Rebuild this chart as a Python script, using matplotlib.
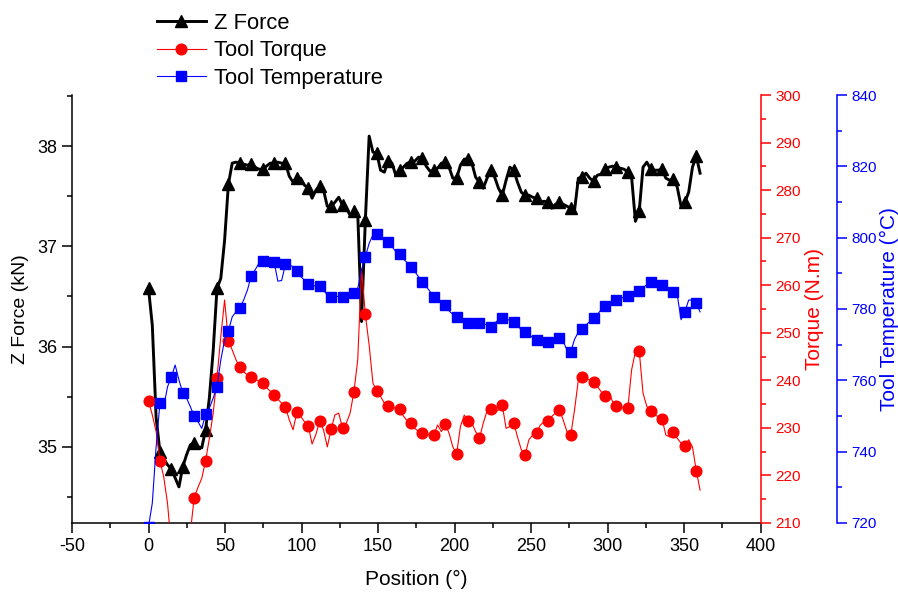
import numpy as np
import matplotlib
matplotlib.use("Agg")
import matplotlib.pyplot as plt
from matplotlib.ticker import MultipleLocator

plt.rcParams['font.family'] = ['Liberation Sans', 'DejaVu Sans']
plt.rcParams['axes.unicode_minus'] = False

# sample positions (deg), markers drawn on every 3rd sample
position = np.linspace(0, 360.5, 146)

z_force = [36.58, 36.21, 35.29, 34.95, 34.88, 34.82, 34.78, 34.69, 34.60, 34.80,
           34.92, 35.02, 35.04, 35.00, 34.99, 35.17, 35.49, 35.96, 36.58, 36.68,
           37.06, 37.62, 37.83, 37.84, 37.83, 37.82, 37.81, 37.82, 37.79, 37.77,
           37.77, 37.80, 37.83, 37.83, 37.84, 37.83, 37.83, 37.70, 37.64, 37.68,
           37.68, 37.61, 37.58, 37.48, 37.56, 37.60, 37.56, 37.40, 37.40, 37.44,
           37.49, 37.41, 37.38, 37.31, 37.35, 37.33, 36.25, 37.26, 38.10, 37.94,
           37.93, 37.76, 37.74, 37.85, 37.83, 37.71, 37.76, 37.79, 37.83, 37.84,
           37.85, 37.89, 37.88, 37.80, 37.75, 37.76, 37.78, 37.83, 37.84, 37.79,
           37.68, 37.68, 37.81, 37.87, 37.87, 37.83, 37.69, 37.64, 37.58, 37.68,
           37.76, 37.69, 37.58, 37.51, 37.66, 37.79, 37.76, 37.64, 37.54, 37.51,
           37.51, 37.49, 37.48, 37.44, 37.45, 37.44, 37.38, 37.42, 37.44, 37.42,
           37.40, 37.38, 37.36, 37.68, 37.69, 37.73, 37.68, 37.65, 37.71, 37.72,
           37.77, 37.79, 37.80, 37.79, 37.78, 37.77, 37.74, 37.69, 37.25, 37.35,
           37.79, 37.84, 37.77, 37.76, 37.76, 37.77, 37.68, 37.66, 37.67, 37.59,
           37.40, 37.44, 37.54, 37.79, 37.90, 37.73]

torque = [235.7, 232.7, 229.2, 223.1, 219.7, 214.1, 205.0, 200.0, 198.0, 199.0,
          203.0, 208.0, 215.3, 217.5, 219.4, 223.1, 227.8, 233.1, 240.5, 249.2,
          256.9, 248.3, 246.4, 244.3, 242.7, 241.8, 241.1, 240.7, 240.2, 239.8,
          239.4, 238.5, 237.7, 236.9, 236.0, 235.2, 234.4, 231.7, 229.6, 233.3,
          232.4, 231.3, 230.4, 226.6, 228.6, 231.5, 229.6, 226.0, 229.7, 232.7,
          233.1, 230.0, 231.0, 233.1, 237.6, 244.3, 263.5, 253.9, 247.4, 239.4,
          237.8, 236.6, 235.2, 234.6, 234.4, 234.1, 234.0, 232.5, 231.5, 231.0,
          229.9, 229.2, 229.0, 228.7, 228.5, 228.5, 230.6, 229.2, 230.8, 228.9,
          226.0, 224.5, 230.3, 232.7, 231.5, 231.0, 229.2, 227.8, 231.0, 233.6,
          233.9, 233.1, 233.8, 234.8, 229.9, 230.3, 231.1, 228.1, 225.4, 224.3,
          227.5, 228.5, 228.9, 230.6, 231.3, 231.5, 232.4, 233.1, 233.8, 231.7,
          229.2, 228.5, 233.8, 240.1, 240.6, 240.4, 240.1, 239.7, 238.7, 237.6,
          236.8, 237.6, 235.5, 234.7, 234.5, 234.1, 234.1, 242.2, 246.0, 246.2,
          237.3, 234.5, 233.6, 232.7, 232.4, 231.9, 228.5, 228.1, 229.1, 227.8,
          226.8, 226.2, 227.5, 226.0, 221.0, 216.9]

temperature = [719.0, 725.6, 741.4, 753.6, 752.6, 758.2, 760.9, 764.3, 760.1, 756.5,
               755.0, 752.6, 750.0, 748.4, 746.5, 750.5, 752.2, 755.0, 758.2, 765.7,
               771.3, 773.8, 777.8, 779.2, 780.2, 782.5, 785.3, 789.3, 790.9, 792.8,
               793.5, 793.7, 793.7, 793.3, 787.8, 788.0, 792.5, 792.3, 791.9, 790.7,
               789.1, 788.1, 787.0, 786.5, 786.5, 786.5, 785.3, 783.9, 783.5, 783.5,
               783.5, 783.5, 783.8, 784.2, 784.4, 785.8, 790.9, 794.7, 798.4, 800.8,
               801.0, 800.5, 799.5, 798.9, 797.5, 796.1, 795.3, 794.0, 793.0, 791.9,
               790.5, 789.0, 787.7, 786.3, 784.9, 783.5, 782.8, 782.0, 781.1, 779.5,
               778.5, 777.8, 777.0, 776.3, 776.0, 776.0, 776.0, 776.0, 775.8, 775.5,
               775.0, 776.0, 777.0, 777.4, 777.2, 776.8, 776.4, 775.3, 774.2, 773.6,
               772.8, 772.0, 771.3, 771.0, 770.9, 770.8, 771.3, 771.8, 772.0, 771.0,
               768.5, 768.0, 771.5, 773.5, 774.3, 775.5, 776.5, 777.4, 778.5, 779.8,
               780.8, 781.4, 782.0, 782.5, 782.9, 783.3, 783.6, 784.1, 784.6, 785.1,
               786.0, 786.8, 787.5, 787.3, 787.0, 786.7, 786.0, 785.4, 784.7, 784.0,
               777.0, 779.2, 782.5, 782.5, 781.6, 779.2]

fig = plt.figure(figsize=(8.98, 5.92), dpi=100)
ax = fig.add_axes([0.0802, 0.1166, 0.7667, 0.7229])
ax2 = ax.twinx()
ax3 = ax.twinx()
ax3.spines['right'].set_position(('axes', 1.111))

l1, = ax.plot(position, z_force, color='k', lw=2.1, marker='^', ms=8.5,
              markevery=3, label='Z Force')
l2, = ax2.plot(position, torque, color='#ff0000', lw=0.8, marker='o', ms=7.7,
               markevery=3, label='Tool Torque')
l3, = ax3.plot(position, temperature, color='#0000ff', lw=0.8, marker='s', ms=6.8,
               markevery=3, label='Tool Temperature')

ax.set_xlim(-50, 400)
ax.set_ylim(34.24, 38.51)
ax2.set_ylim(210, 300)
ax3.set_ylim(720, 840)

ax.xaxis.set_major_locator(MultipleLocator(50))
ax.xaxis.set_minor_locator(MultipleLocator(25))
ax.yaxis.set_major_locator(MultipleLocator(1))
ax.yaxis.set_minor_locator(MultipleLocator(0.5))
ax2.yaxis.set_major_locator(MultipleLocator(10))
ax2.yaxis.set_minor_locator(MultipleLocator(5))
ax3.yaxis.set_major_locator(MultipleLocator(20))
ax3.yaxis.set_minor_locator(MultipleLocator(10))

for a in (ax, ax2, ax3):
    a.spines['top'].set_visible(False)
ax.spines['right'].set_visible(False)
ax2.spines['left'].set_visible(False)
ax3.spines['left'].set_visible(False)
ax3.spines['bottom'].set_visible(False)
ax2.spines['bottom'].set_visible(False)
for s in ('left', 'bottom'):
    ax.spines[s].set_linewidth(1.1)
ax2.spines['right'].set_color('#ff0000')
ax2.spines['right'].set_linewidth(1.1)
ax3.spines['right'].set_color('#0000ff')
ax3.spines['right'].set_linewidth(1.1)

ax.tick_params(which='major', length=7, width=1.1, labelsize=13)
ax.tick_params(which='minor', length=3.5, width=1.1)
ax2.tick_params(axis='y', which='major', length=7, width=1.1, colors='#ff0000', labelsize=11)
ax2.tick_params(axis='y', which='minor', length=3.5, width=1.1, colors='#ff0000')
ax3.tick_params(axis='y', which='major', length=7, width=1.1, colors='#0000ff', labelsize=11)
ax3.tick_params(axis='y', which='minor', length=3.5, width=1.1, colors='#0000ff')

ax.set_xlabel('Position (°)', fontsize=15, labelpad=11)
ax.set_ylabel('Z Force (kN)', fontsize=14, labelpad=6)
ax2.set_ylabel('Torque (N.m)', fontsize=15, color='#ff0000', labelpad=3)
ax3.set_ylabel('Tool Temperature (°C)', fontsize=15, color='#0000ff', labelpad=2)

fig.legend(handles=[l1, l2, l3], loc='upper left', bbox_to_anchor=(0.163, 0.997),
           frameon=False, fontsize=15.8, borderpad=0, handlelength=2.2,
           handletextpad=0.4, labelspacing=0.3)

fig.savefig('out.png', dpi=100)
